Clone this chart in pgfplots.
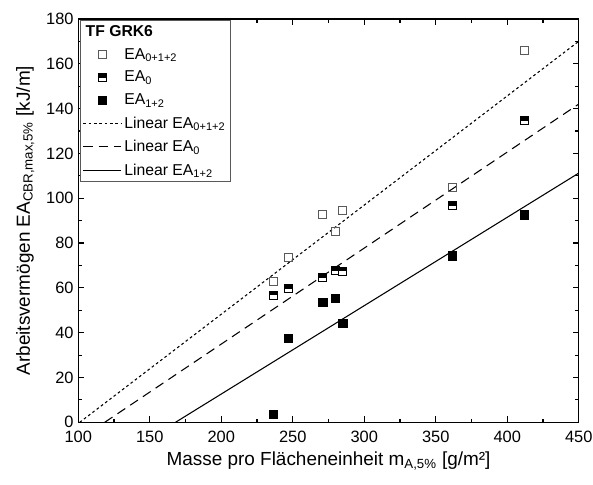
\documentclass[border=0pt]{standalone}
\usepackage{fontspec}
\setmainfont{Liberation Sans}
\usepackage{pgfplots}
\pgfplotsset{compat=1.18}
\makeatletter
\pgfdeclareplotmark{halfsq}{%
  \begin{pgfscope}\pgfsetfillcolor{white}%
  \pgfpathrectangle{\pgfqpoint{-\pgfplotmarksize}{-\pgfplotmarksize}}{\pgfqpoint{2\pgfplotmarksize}{2\pgfplotmarksize}}%
  \pgfusepathqfill\end{pgfscope}%
  \pgfpathrectangle{\pgfqpoint{-\pgfplotmarksize}{0pt}}{\pgfqpoint{2\pgfplotmarksize}{\pgfplotmarksize}}%
  \pgfusepathqfill
  \pgfpathrectangle{\pgfqpoint{-\pgfplotmarksize}{-\pgfplotmarksize}}{\pgfqpoint{2\pgfplotmarksize}{2\pgfplotmarksize}}%
  \pgfusepathqstroke
}
\makeatother
\begin{document}
\begin{tikzpicture}
\begin{axis}[
  scale only axis,
  width=375.3pt, height=302.5pt,
  xmin=100, xmax=450, ymin=0, ymax=180,
  xtick={100,150,...,450}, ytick={0,20,...,180},
  minor x tick num=1, minor y tick num=1,
  tick style={black, line width=0.8pt},
  major tick length=4.5pt, minor tick length=2.8pt,
  axis line style={line width=1.1pt},
  /pgf/number format/assume math mode=true,
  /pgf/number format/1000 sep={},
  ticklabel style={font=\fontsize{12.3}{14}\selectfont},
  xticklabel style={yshift=-3pt},
  label style={font=\fontsize{14.2}{16}\selectfont},
  xlabel={Masse pro Flächeneinheit m\textsubscript{A,5\%} [g/m²]},
  ylabel={Arbeitsvermögen EA\textsubscript{CBR,max,5\%} [kJ/m]},
  xlabel style={yshift=0pt},
  ylabel style={yshift=2pt},
  legend cell align=left,
  legend style={at={(0,1)}, xshift=1.5pt, yshift=-1pt, anchor=north west, draw=black!65, line width=0.6pt,
    font=\fontsize{11.8}{13}\selectfont, row sep=3.5pt, inner sep=1.5pt},
  legend image code/.code={\draw[mark repeat=2,mark phase=2] plot coordinates {(0cm,0cm) (0.5cm,0cm) (1cm,0cm)};},
]
\addlegendimage{empty legend}
\addlegendentry{\hspace{-29pt}\textbf{TF GRK6}}
\addplot[only marks, mark=square, mark size=3pt, draw=black!65, line width=0.7pt] coordinates {
(236.5,62.8) (246.7,73.5) (271,92.7) (279.6,85) (285,94.5) (361.4,104.7) (412,165.8)};
\addlegendentry{EA\textsubscript{0+1+2}}
\addplot[only marks, mark=halfsq, mark size=3pt, draw=black, fill=black, line width=0.7pt] coordinates {
(236.5,56.6) (246.7,59.7) (271,64.6) (279.6,67.7) (285,67.3) (361.4,96.7) (412,134.6)};
\addlegendentry{EA\textsubscript{0}}
\addplot[only marks, mark=square*, mark size=3.2pt, draw=black, fill=black] coordinates {
(236.5,3.5) (246.7,37.5) (271,53.5) (279.6,55.3) (285,44.1) (361.4,74.4) (412,92.7)};
\addlegendentry{EA\textsubscript{1+2}}
\addplot[black, line width=0.8pt, dash pattern=on 2pt off 2pt] coordinates {(101,0) (450,170)};
\addlegendentry{Linear EA\textsubscript{0+1+2}}
\addplot[black, line width=0.8pt, dash pattern=on 7pt off 4.5pt] coordinates {(118.5,0) (450,142)};
\addlegendentry{Linear EA\textsubscript{0}}
\addplot[black, line width=0.8pt] coordinates {(168,0) (450,111.2)};
\addlegendentry{Linear EA\textsubscript{1+2}}
\end{axis}
\pgfresetboundingbox
\path ([shift={(-58.7pt,-46.3pt)}]current axis.south west) rectangle ([shift={(10.7pt,14.2pt)}]current axis.north east);
\end{tikzpicture}
\end{document}
